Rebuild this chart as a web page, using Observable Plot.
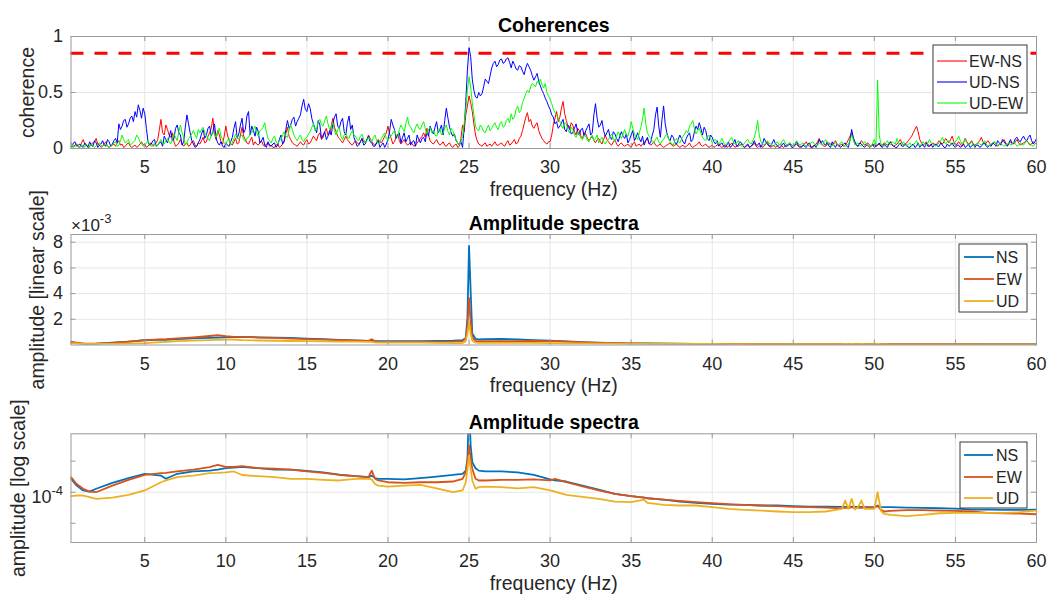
<!DOCTYPE html>
<html><head><meta charset="utf-8">
<script src="https://cdn.jsdelivr.net/npm/d3@7"></script>
<script src="https://cdn.jsdelivr.net/npm/@observablehq/plot@0.6"></script>
<style>
body{margin:0;background:#fff;}
#fig{position:relative;width:1048px;height:597px;overflow:hidden;background:#fff;}
#fig svg{position:absolute;left:0;}
</style></head><body><div id="fig"></div>
<script>
// ---------- DATA ----------
// coherence spectra: main samples every 0.2 Hz from 0.4 Hz, plus in-between samples from 0.5 Hz
const cohStart = 0.4, cohMidStart = 0.5, cohStep = 0.2;
const cohEWNS = [
0.06,0.02,0.04,0.01,0.08,0.03,0.02,0.05,0.09,0.03,
0.02,0.06,0.01,0.03,0.02,0.07,0.04,0.02,0.05,0.01,
0.03,0.02,0.06,0.04,0.02,0.05,0.03,0.08,0.26,0.12,
0.17,0.10,0.06,0.03,0.08,0.02,0.05,0.03,0.07,0.02,
0.04,0.10,0.06,0.14,0.27,0.08,0.12,0.04,0.20,0.07,
0.03,0.09,0.05,0.19,0.08,0.04,0.10,0.06,0.03,0.07,
0.02,0.05,0.03,0.01,0.04,0.02,0.06,0.19,0.08,0.04,
0.02,0.06,0.03,0.08,0.05,0.11,0.07,0.14,0.10,0.18,
0.13,0.27,0.15,0.09,0.05,0.11,0.06,0.03,0.07,0.04,
0.09,0.05,0.12,0.06,0.03,0.08,0.05,0.11,0.20,0.09,
0.06,0.13,0.04,0.08,0.03,0.06,0.02,0.05,0.09,0.14,
0.18,0.07,0.04,0.08,0.03,0.06,0.02,0.05,0.01,0.04,
0.02,0.21,0.30,0.47,0.33,0.12,0.04,0.02,0.05,0.03,
0.02,0.06,0.03,0.05,0.02,0.07,0.04,0.08,0.05,0.11,
0.22,0.32,0.26,0.18,0.23,0.12,0.07,0.04,0.06,0.21,
0.33,0.28,0.42,0.25,0.17,0.21,0.12,0.16,0.09,0.13,
0.07,0.11,0.05,0.09,0.04,0.12,0.06,0.03,0.08,0.02,
0.05,0.02,0.04,0.01,0.06,0.03,0.02,0.05,0.09,0.03,
0.06,0.02,0.04,0.01,0.03,0.05,0.02,0.04,0.01,0.03,
0.02,0.05,0.01,0.03,0.06,0.02,0.04,0.01,0.03,0.02,
0.04,0.01,0.03,0.02,0.05,0.01,0.02,0.04,0.01,0.03,
0.02,0.05,0.01,0.03,0.02,0.06,0.01,0.03,0.02,0.04,
0.01,0.03,0.05,0.02,0.04,0.01,0.03,0.06,0.02,0.01,
0.04,0.09,0.03,0.02,0.05,0.03,0.07,0.02,0.04,0.03,
0.08,0.14,0.04,0.02,0.07,0.03,0.05,0.02,0.04,0.03,
0.02,0.05,0.03,0.06,0.02,0.04,0.08,0.03,0.05,0.09,
0.14,0.20,0.08,0.03,0.06,0.02,0.05,0.03,0.07,0.04,
0.09,0.05,0.11,0.03,0.06,0.02,0.09,0.04,0.07,0.03,
0.05,0.10,0.04,0.07,0.03,0.06,0.02,0.05,0.08,0.03,
0.06,0.04,0.08,0.03,0.05,0.07,0.03,0.06,0.04];
const cohEWNSmid = [
0.03,0.03,0.02,0.05,0.04,0.01,0.04,0.06,0.04,0.01,
0.04,0.02,0.02,0.04,0.05,0.03,0.01,0.04,0.02,0.02,
0.01,0.04,0.03,0.01,0.04,0.02,0.05,0.17,0.14,0.21,
0.12,0.14,0.02,0.05,0.04,0.04,0.02,0.06,0.03,0.05,
0.07,0.05,0.11,0.18,0.13,0.16,0.06,0.11,0.12,0.04,
0.06,0.04,0.12,0.11,0.05,0.07,0.03,0.04,0.05,0.03,
0.04,0.02,0.01,0.03,0.01,0.04,0.13,0.11,0.05,0.03,
0.04,0.04,0.06,0.04,0.08,0.09,0.12,0.08,0.15,0.12,
0.20,0.19,0.11,0.07,0.08,0.08,0.04,0.05,0.05,0.06,
0.06,0.08,0.09,0.04,0.05,0.06,0.08,0.14,0.13,0.04,
0.10,0.07,0.06,0.05,0.04,0.04,0.03,0.07,0.11,0.10,
0.12,0.05,0.06,0.05,0.04,0.03,0.04,0.02,0.03,0.01,
0.09,0.15,0.38,0.41,0.22,0.07,0.03,0.04,0.02,0.04,
0.04,0.03,0.04,0.03,0.05,0.03,0.06,0.04,0.09,0.16,
0.28,0.24,0.20,0.21,0.16,0.09,0.05,0.06,0.12,0.27,
0.24,0.36,0.31,0.20,0.23,0.15,0.18,0.11,0.14,0.09,
0.09,0.07,0.08,0.06,0.08,0.08,0.04,0.06,0.04,0.04,
0.03,0.03,0.02,0.04,0.02,0.04,0.04,0.07,0.05,0.04,
0.03,0.03,0.02,0.02,0.04,0.03,0.03,0.02,0.02,0.01,
0.03,0.02,0.02,0.04,0.03,0.03,0.02,0.02,0.01,0.03,
0.02,0.02,0.01,0.03,0.03,0.02,0.03,0.02,0.02,0.01,
0.03,0.02,0.02,0.01,0.04,0.03,0.02,0.01,0.03,0.02,
0.02,0.04,0.03,0.03,0.02,0.02,0.04,0.03,0.01,0.02,
0.06,0.05,0.02,0.04,0.04,0.05,0.04,0.03,0.02,0.05,
0.11,0.09,0.03,0.04,0.05,0.04,0.03,0.03,0.02,0.04,
0.03,0.04,0.04,0.03,0.03,0.06,0.05,0.04,0.07,0.11,
0.17,0.15,0.05,0.04,0.04,0.03,0.04,0.05,0.05,0.06,
0.07,0.08,0.06,0.04,0.04,0.05,0.06,0.05,0.04,0.04,
0.07,0.06,0.05,0.05,0.04,0.04,0.04,0.06,0.05,0.04,
0.05,0.06,0.05,0.04,0.06,0.05,0.04,0.05];
const cohUDNS = [
0.03,0.05,0.02,0.04,0.01,0.03,0.06,0.02,0.05,0.03,
0.07,0.02,0.06,0.04,0.09,0.22,0.20,0.26,0.22,0.29,
0.33,0.39,0.27,0.31,0.06,0.04,0.08,0.03,0.06,0.11,
0.05,0.16,0.09,0.21,0.12,0.06,0.30,0.14,0.04,0.02,
0.08,0.17,0.12,0.20,0.15,0.09,0.03,0.02,0.05,0.02,
0.10,0.24,0.13,0.27,0.17,0.33,0.20,0.11,0.15,0.07,
0.03,0.06,0.02,0.05,0.03,0.12,0.07,0.25,0.21,0.28,
0.24,0.30,0.44,0.33,0.36,0.22,0.14,0.21,0.12,0.08,
0.16,0.22,0.31,0.18,0.27,0.12,0.29,0.21,0.06,0.03,
0.09,0.04,0.11,0.05,0.02,0.07,0.03,0.01,0.08,0.26,
0.17,0.12,0.05,0.14,0.09,0.03,0.07,0.12,0.05,0.10,
0.15,0.20,0.13,0.24,0.17,0.12,0.36,0.19,0.11,0.07,
0.03,0.01,0.42,0.90,0.62,0.46,0.50,0.49,0.62,0.58,
0.72,0.78,0.75,0.80,0.77,0.81,0.72,0.75,0.70,0.73,
0.66,0.76,0.70,0.61,0.67,0.56,0.49,0.42,0.35,0.28,
0.24,0.20,0.26,0.15,0.19,0.14,0.22,0.12,0.18,0.16,
0.22,0.14,0.40,0.19,0.25,0.11,0.17,0.08,0.13,0.06,
0.15,0.09,0.05,0.12,0.07,0.14,0.06,0.03,0.10,0.05,
0.17,0.37,0.10,0.38,0.14,0.07,0.10,0.04,0.12,0.06,
0.09,0.14,0.08,0.20,0.23,0.12,0.16,0.07,0.10,0.04,
0.02,0.05,0.01,0.06,0.02,0.08,0.03,0.05,0.01,0.04,
0.02,0.07,0.03,0.01,0.09,0.04,0.02,0.08,0.03,0.01,
0.05,0.02,0.04,0.01,0.06,0.02,0.03,0.01,0.05,0.02,
0.01,0.08,0.07,0.03,0.02,0.06,0.01,0.03,0.02,0.05,
0.01,0.17,0.06,0.02,0.04,0.01,0.03,0.02,0.01,0.03,
0.02,0.04,0.01,0.06,0.02,0.01,0.05,0.02,0.03,0.01,
0.04,0.02,0.01,0.03,0.05,0.02,0.01,0.04,0.02,0.03,
0.01,0.02,0.05,0.01,0.03,0.02,0.01,0.04,0.02,0.01,
0.03,0.02,0.05,0.01,0.02,0.04,0.07,0.03,0.06,0.02,
0.08,0.05,0.10,0.06,0.11,0.07,0.12,0.04,0.09];
const cohUDNSmid = [
0.01,0.06,0.03,0.02,0.05,0.01,0.03,0.07,0.01,0.04,
0.03,0.08,0.02,0.07,0.05,0.17,0.25,0.19,0.27,0.24,
0.28,0.34,0.36,0.18,0.03,0.07,0.02,0.05,0.02,0.08,
0.10,0.07,0.18,0.14,0.03,0.19,0.22,0.07,0.01,0.05,
0.13,0.09,0.18,0.11,0.22,0.05,0.06,0.01,0.03,0.06,
0.18,0.09,0.21,0.14,0.29,0.12,0.16,0.19,0.05,0.10,
0.01,0.03,0.04,0.01,0.08,0.04,0.17,0.18,0.26,0.20,
0.27,0.38,0.35,0.40,0.27,0.18,0.25,0.09,0.15,0.11,
0.12,0.28,0.20,0.24,0.15,0.23,0.17,0.10,0.02,0.06,
0.03,0.08,0.06,0.02,0.05,0.01,0.05,0.04,0.15,0.21,
0.09,0.14,0.10,0.06,0.12,0.06,0.02,0.08,0.09,0.06,
0.11,0.16,0.19,0.14,0.21,0.25,0.27,0.14,0.13,0.05,
0.06,0.18,0.70,0.82,0.52,0.45,0.47,0.55,0.60,0.65,
0.76,0.73,0.79,0.76,0.80,0.77,0.78,0.71,0.74,0.69,
0.72,0.73,0.65,0.64,0.60,0.52,0.45,0.38,0.30,0.22,
0.18,0.23,0.17,0.21,0.13,0.18,0.15,0.17,0.11,0.19,
0.12,0.30,0.27,0.21,0.16,0.14,0.10,0.15,0.09,0.11,
0.11,0.13,0.08,0.16,0.10,0.09,0.11,0.07,0.04,0.12,
0.30,0.20,0.26,0.22,0.09,0.12,0.05,0.08,0.09,0.04,
0.12,0.06,0.15,0.17,0.18,0.19,0.09,0.12,0.06,0.07,
0.04,0.02,0.03,0.01,0.05,0.02,0.06,0.02,0.03,0.01,
0.04,0.03,0.05,0.04,0.06,0.02,0.05,0.04,0.01,0.03,
0.02,0.03,0.01,0.03,0.03,0.01,0.02,0.04,0.01,0.03,
0.04,0.05,0.04,0.06,0.01,0.03,0.04,0.01,0.04,0.02,
0.08,0.10,0.03,0.05,0.02,0.03,0.01,0.04,0.02,0.05,
0.01,0.02,0.04,0.03,0.01,0.03,0.02,0.04,0.01,0.03,
0.01,0.05,0.03,0.01,0.02,0.04,0.03,0.02,0.05,0.01,
0.04,0.03,0.02,0.03,0.01,0.04,0.02,0.01,0.04,0.03,
0.01,0.04,0.02,0.03,0.05,0.02,0.05,0.08,0.04,0.05,
0.04,0.09,0.07,0.09,0.08,0.10,0.07,0.06];
const cohUDEW = [
0.02,0.01,0.03,0.01,0.02,0.04,0.01,0.03,0.02,0.05,
0.02,0.04,0.01,0.03,0.06,0.03,0.12,0.05,0.08,0.04,
0.07,0.10,0.05,0.03,0.07,0.02,0.05,0.03,0.08,0.04,
0.09,0.04,0.13,0.07,0.21,0.10,0.05,0.11,0.16,0.09,
0.14,0.19,0.12,0.07,0.15,0.10,0.18,0.08,0.04,0.09,
0.05,0.13,0.08,0.12,0.06,0.10,0.14,0.20,0.11,0.17,
0.23,0.09,0.05,0.11,0.04,0.08,0.15,0.10,0.21,0.12,
0.07,0.12,0.06,0.10,0.15,0.22,0.18,0.26,0.20,0.29,
0.17,0.23,0.12,0.19,0.08,0.14,0.09,0.16,0.11,0.07,
0.13,0.05,0.10,0.06,0.12,0.04,0.09,0.14,0.07,0.11,
0.16,0.10,0.21,0.15,0.28,0.19,0.14,0.22,0.17,0.24,
0.13,0.19,0.16,0.11,0.18,0.14,0.21,0.12,0.16,0.08,
0.03,0.11,0.35,0.64,0.41,0.20,0.16,0.19,0.14,0.21,
0.18,0.23,0.17,0.24,0.20,0.27,0.31,0.28,0.38,0.34,
0.45,0.52,0.55,0.57,0.60,0.62,0.54,0.50,0.44,0.35,
0.30,0.24,0.18,0.22,0.14,0.17,0.10,0.13,0.08,0.11,
0.06,0.12,0.09,0.05,0.10,0.04,0.08,0.13,0.06,0.15,
0.09,0.17,0.11,0.24,0.13,0.08,0.19,0.36,0.14,0.09,
0.05,0.10,0.04,0.08,0.13,0.06,0.03,0.09,0.05,0.11,
0.16,0.20,0.25,0.13,0.18,0.10,0.07,0.12,0.05,0.08,
0.04,0.09,0.03,0.06,0.10,0.04,0.07,0.02,0.05,0.08,
0.04,0.10,0.25,0.06,0.03,0.07,0.04,0.02,0.06,0.03,
0.08,0.03,0.05,0.02,0.07,0.03,0.05,0.02,0.04,0.06,
0.02,0.05,0.03,0.08,0.04,0.02,0.05,0.03,0.06,0.02,
0.04,0.12,0.03,0.05,0.02,0.06,0.03,0.02,0.08,0.61,
0.04,0.02,0.07,0.03,0.05,0.09,0.03,0.06,0.02,0.05,
0.03,0.07,0.02,0.06,0.03,0.08,0.04,0.02,0.05,0.10,
0.04,0.07,0.03,0.06,0.11,0.04,0.08,0.03,0.06,0.02,
0.05,0.03,0.07,0.02,0.04,0.06,0.03,0.05,0.02,0.04,
0.03,0.06,0.02,0.05,0.03,0.07,0.04,0.02,0.05];
const cohUDEWmid = [
0.04,0.02,0.01,0.03,0.01,0.02,0.04,0.01,0.04,0.03,
0.03,0.02,0.02,0.05,0.02,0.07,0.08,0.06,0.03,0.06,
0.12,0.06,0.02,0.05,0.04,0.03,0.02,0.06,0.05,0.07,
0.06,0.08,0.10,0.15,0.14,0.03,0.09,0.13,0.12,0.17,
0.17,0.14,0.09,0.12,0.13,0.15,0.11,0.05,0.07,0.03,
0.09,0.10,0.11,0.08,0.09,0.13,0.17,0.14,0.16,0.19,
0.15,0.07,0.09,0.06,0.07,0.12,0.11,0.16,0.17,0.09,
0.10,0.08,0.09,0.13,0.19,0.16,0.24,0.21,0.25,0.22,
0.20,0.16,0.17,0.11,0.12,0.10,0.13,0.12,0.08,0.11,
0.08,0.07,0.08,0.10,0.07,0.06,0.12,0.09,0.10,0.14,
0.12,0.17,0.18,0.22,0.21,0.16,0.19,0.18,0.21,0.18,
0.17,0.14,0.12,0.15,0.12,0.18,0.15,0.18,0.11,0.05,
0.06,0.22,0.52,0.55,0.30,0.17,0.21,0.15,0.18,0.16,
0.21,0.19,0.22,0.19,0.25,0.23,0.26,0.35,0.32,0.41,
0.49,0.50,0.58,0.55,0.58,0.57,0.58,0.47,0.40,0.32,
0.27,0.20,0.23,0.17,0.19,0.12,0.14,0.09,0.12,0.07,
0.10,0.07,0.12,0.08,0.06,0.07,0.11,0.09,0.11,0.12,
0.13,0.12,0.16,0.18,0.10,0.14,0.26,0.22,0.11,0.07,
0.08,0.06,0.07,0.11,0.09,0.04,0.07,0.06,0.08,0.13,
0.14,0.22,0.18,0.16,0.14,0.08,0.10,0.09,0.07,0.05,
0.06,0.05,0.04,0.08,0.06,0.05,0.04,0.03,0.07,0.05,
0.07,0.16,0.12,0.04,0.05,0.05,0.03,0.04,0.04,0.06,
0.05,0.04,0.03,0.04,0.05,0.04,0.03,0.03,0.05,0.04,
0.03,0.04,0.06,0.05,0.03,0.04,0.04,0.05,0.03,0.03,
0.07,0.08,0.04,0.03,0.04,0.04,0.02,0.05,0.03,0.12,
0.03,0.05,0.04,0.06,0.04,0.05,0.04,0.03,0.04,0.02,
0.05,0.04,0.04,0.04,0.05,0.05,0.03,0.04,0.07,0.06,
0.06,0.04,0.05,0.08,0.07,0.06,0.05,0.04,0.03,0.04,
0.04,0.05,0.04,0.03,0.05,0.04,0.04,0.03,0.03,0.05,
0.04,0.04,0.03,0.04,0.05,0.05,0.03,0.04];
const cohThreshold = 0.85;
const cohSeries = ["EW-NS", "UD-NS", "UD-EW"];
const cohColors = ["#ff0000", "#0000ff", "#00ff00"];

// amplitude spectra frequencies (Hz)
const ampFreq = [0.45,0.8,1.2,1.6,2,3,4,5,6,6.3,7,8,9,9.5,10,10.5,11,12,13,14,15,16,17,18,18.8,19,19.2,19.4,20,21,
22,23,24,24.6,24.8,24.9,25,25.1,25.2,25.4,25.6,26,27,28,29,30,30.3,31,32,33,34,35,35.8,36,37,38,39,40,41,42,
43,44,45,46,47,48,48.2,48.4,48.6,48.8,49,49.2,49.4,50,50.2,50.4,50.6,51,52,53,54,55,56,57,58,59,60];
// linear-scale panel, in units of 1e-3
const linNS = [0.18,0.12,0.09,0.09,0.11,0.19,0.27,0.37,0.42,0.40,0.46,0.52,0.55,0.57,0.60,0.62,0.64,0.60,0.58,0.55,
0.50,0.45,0.40,0.35,0.32,0.33,0.31,0.30,0.29,0.29,0.30,0.31,0.34,0.38,0.55,2.10,7.72,4.20,0.90,0.48,
0.44,0.45,0.48,0.44,0.38,0.33,0.31,0.28,0.22,0.18,0.15,0.13,0.12,0.12,0.11,0.10,0.09,0.09,0.08,0.08,
0.08,0.08,0.07,0.07,0.07,0.07,0.07,0.07,0.07,0.07,0.07,0.07,0.07,0.07,0.08,0.07,0.07,0.07,0.07,0.07,
0.07,0.07,0.06,0.06,0.06,0.06,0.06];
const linEW = [0.26,0.18,0.13,0.11,0.11,0.17,0.26,0.38,0.44,0.45,0.52,0.60,0.70,0.76,0.68,0.64,0.63,0.58,0.55,0.50,
0.46,0.42,0.38,0.34,0.32,0.45,0.29,0.27,0.25,0.24,0.25,0.25,0.26,0.30,0.50,1.40,3.65,1.80,0.60,0.32,
0.29,0.29,0.29,0.30,0.31,0.30,0.31,0.27,0.21,0.17,0.14,0.12,0.11,0.11,0.10,0.09,0.09,0.08,0.08,0.08,
0.07,0.07,0.07,0.07,0.07,0.07,0.07,0.07,0.07,0.07,0.07,0.07,0.07,0.07,0.07,0.06,0.06,0.06,0.06,0.06,
0.06,0.06,0.06,0.05,0.05,0.05,0.05];
const linUD = [0.14,0.12,0.10,0.09,0.08,0.08,0.10,0.14,0.22,0.25,0.30,0.34,0.38,0.40,0.42,0.42,0.38,0.35,0.33,0.31,
0.30,0.28,0.27,0.26,0.25,0.25,0.20,0.19,0.18,0.18,0.18,0.16,0.14,0.15,0.30,0.90,1.75,0.90,0.35,0.18,
0.17,0.17,0.17,0.16,0.16,0.15,0.14,0.13,0.12,0.11,0.10,0.10,0.10,0.09,0.09,0.08,0.08,0.08,0.07,0.07,
0.07,0.06,0.06,0.06,0.06,0.06,0.08,0.06,0.08,0.06,0.06,0.08,0.06,0.06,0.10,0.06,0.06,0.05,0.05,0.05,
0.05,0.05,0.05,0.05,0.05,0.05,0.05];
// log-scale panel
const logNS = [1.35e-4,1.16e-4,1.04e-4,1.015e-4,1.08e-4,1.23e-4,1.37e-4,1.51e-4,1.45e-4,1.35e-4,1.51e-4,1.59e-4,1.62e-4,1.66e-4,1.71e-4,1.73e-4,1.76e-4,1.71e-4,1.66e-4,1.66e-4,
1.61e-4,1.56e-4,1.48e-4,1.43e-4,1.40e-4,1.45e-4,1.37e-4,1.35e-4,1.35e-4,1.33e-4,1.37e-4,1.42e-4,1.47e-4,1.51e-4,1.62e-4,2.11e-4,7.0e-4,2.84e-4,1.96e-4,1.71e-4,
1.62e-4,1.59e-4,1.59e-4,1.56e-4,1.47e-4,1.33e-4,1.30e-4,1.27e-4,1.16e-4,1.06e-4,0.963e-4,0.915e-4,0.888e-4,0.874e-4,0.849e-4,0.812e-4,0.788e-4,0.771e-4,0.759e-4,0.754e-4,
0.743e-4,0.743e-4,0.732e-4,0.726e-4,0.726e-4,0.721e-4,0.721e-4,0.721e-4,0.726e-4,0.721e-4,0.721e-4,0.721e-4,0.715e-4,0.715e-4,0.743e-4,0.721e-4,0.715e-4,0.715e-4,0.710e-4,0.705e-4,
0.699e-4,0.694e-4,0.679e-4,0.679e-4,0.674e-4,0.674e-4,0.679e-4];
const logEW = [1.40e-4,1.20e-4,1.08e-4,1.015e-4,1.00e-4,1.16e-4,1.32e-4,1.47e-4,1.53e-4,1.54e-4,1.59e-4,1.66e-4,1.75e-4,1.84e-4,1.76e-4,1.76e-4,1.79e-4,1.71e-4,1.69e-4,1.66e-4,
1.59e-4,1.54e-4,1.47e-4,1.43e-4,1.40e-4,1.62e-4,1.35e-4,1.30e-4,1.25e-4,1.23e-4,1.25e-4,1.25e-4,1.27e-4,1.35e-4,1.56e-4,1.96e-4,2.84e-4,2.11e-4,1.69e-4,1.35e-4,
1.30e-4,1.30e-4,1.32e-4,1.32e-4,1.33e-4,1.30e-4,1.35e-4,1.25e-4,1.14e-4,1.04e-4,0.963e-4,0.915e-4,0.888e-4,0.874e-4,0.849e-4,0.824e-4,0.800e-4,0.782e-4,0.765e-4,0.754e-4,
0.743e-4,0.732e-4,0.721e-4,0.715e-4,0.710e-4,0.699e-4,0.710e-4,0.699e-4,0.715e-4,0.699e-4,0.710e-4,0.705e-4,0.710e-4,0.710e-4,0.732e-4,0.679e-4,0.650e-4,0.659e-4,0.669e-4,0.669e-4,
0.664e-4,0.659e-4,0.650e-4,0.630e-4,0.625e-4,0.621e-4,0.611e-4];
const logUD = [0.915e-4,0.929e-4,0.929e-4,0.894e-4,0.862e-4,0.888e-4,0.942e-4,1.04e-4,1.25e-4,1.30e-4,1.40e-4,1.45e-4,1.53e-4,1.54e-4,1.56e-4,1.59e-4,1.47e-4,1.43e-4,1.40e-4,1.35e-4,
1.35e-4,1.32e-4,1.30e-4,1.35e-4,1.35e-4,1.33e-4,1.20e-4,1.16e-4,1.135e-4,1.16e-4,1.18e-4,1.09e-4,1.00e-4,1.04e-4,1.25e-4,1.69e-4,2.27e-4,1.69e-4,1.30e-4,1.08e-4,
1.12e-4,1.135e-4,1.12e-4,1.09e-4,1.12e-4,1.04e-4,1.015e-4,0.942e-4,0.901e-4,0.862e-4,0.812e-4,0.800e-4,0.849e-4,0.788e-4,0.754e-4,0.743e-4,0.743e-4,0.715e-4,0.689e-4,0.674e-4,
0.664e-4,0.650e-4,0.640e-4,0.640e-4,0.650e-4,0.689e-4,0.830e-4,0.689e-4,0.862e-4,0.679e-4,0.715e-4,0.830e-4,0.689e-4,0.689e-4,1.00e-4,0.664e-4,0.616e-4,0.602e-4,0.585e-4,0.602e-4,
0.625e-4,0.630e-4,0.630e-4,0.630e-4,0.630e-4,0.640e-4,0.664e-4];
const ampSeries = ["NS", "EW", "UD"];
const ampColors = ["#0072bd", "#d95319", "#edb120"];

const xTicks = [5, 10, 15, 20, 25, 30, 35, 40, 45, 50, 55, 60];
const cohTicks = [0, 0.5, 1];
const linTicks = [2, 4, 6, 8];
const logMinorTicks = [5e-5, 1e-4, 2e-4];
const logTicks = [1e-4];

// ---------- BUILD ----------
const FONT = '"Liberation Sans", Arial, Helvetica, sans-serif';
const W = 1048, ML = 70.5, MR = 12;
const innerW = W - ML - MR;
const frameColor = "#9a9a9a", gridColor = "#e6e6e6", textColor = "#262626";
const fig = document.getElementById("fig");
const SVGNS = "http://www.w3.org/2000/svg";

const cohRows = [];
[[cohEWNS, cohEWNSmid], [cohUDNS, cohUDNSmid], [cohUDEW, cohUDEWmid]].forEach(([main, mid], s) => {
  main.forEach((v, i) => cohRows.push({f: cohStart + i * cohStep, v, s: cohSeries[s]}));
  mid.forEach((v, i) => cohRows.push({f: cohMidStart + i * cohStep, v, s: cohSeries[s]}));
});
const linRows = [], logRows = [];
[linNS, linEW, linUD].forEach((arr, s) => arr.forEach((v, i) => linRows.push({f: ampFreq[i], v, s: ampSeries[s]})));
[logNS, logEW, logUD].forEach((arr, s) => arr.forEach((v, i) => logRows.push({f: ampFreq[i], v, s: ampSeries[s]})));

function boxTicks(xt, yt, innerH, len = 5) {
  return [
    Plot.tickX(xt, {insetTop: innerH - len, stroke: frameColor}),
    Plot.tickX(xt, {insetBottom: innerH - len, stroke: frameColor}),
    Plot.tickY(yt, {insetRight: innerW - len, stroke: frameColor}),
    Plot.tickY(yt, {insetLeft: innerW - len, stroke: frameColor})
  ];
}

// turn "10⁻⁴"-style strings into real raised tspans
const supMap = {"⁻": "-", "³": "3", "⁴": "4"};
function fixSuperscripts(svg, supSize, rise) {
  svg.querySelectorAll("text").forEach(t => {
    const s = t.textContent;
    const k = s.indexOf("⁻");
    if (k < 0 || t.children.length) return;
    const base = s.slice(0, k), sup = [...s.slice(k)].map(c => supMap[c] || c).join("");
    t.textContent = "";
    const a = document.createElementNS(SVGNS, "tspan"); a.textContent = base;
    const b = document.createElementNS(SVGNS, "tspan"); b.textContent = sup;
    b.setAttribute("dy", -rise); b.setAttribute("font-size", supSize);
    t.append(a, b);
  });
}

function panel({top, height, mt, mb, y, gridY, tickMarksY, axisYOpts, lines, extra, title, ylabel, ylabelDx}) {
  const innerH = height - mt - mb;
  const svg = Plot.plot({
    width: W, height, marginLeft: ML, marginRight: MR, marginTop: mt, marginBottom: mb,
    style: {fontFamily: FONT, color: textColor, background: "transparent", overflow: "visible"},
    x: {domain: [0.45, 60]},
    y,
    marks: [
      Plot.gridX(xTicks, {stroke: gridColor, strokeOpacity: 1}),
      Plot.gridY(gridY, {stroke: gridColor, strokeOpacity: 1}),
      ...lines,
      ...extra,
      ...boxTicks(xTicks, tickMarksY, innerH),
      Plot.frame({stroke: frameColor}),
      Plot.axisX({ticks: xTicks, tickSize: 0, tickPadding: 12, fontSize: 18, label: null}),
      Plot.axisY({tickSize: 0, tickPadding: 8, fontSize: 18, label: null, ...axisYOpts}),
      Plot.text([title], {frameAnchor: "top", lineAnchor: "middle", dy: -11, fontSize: 19.5, fontWeight: "bold", fill: "#000"}),
      Plot.text(["frequency (Hz)"], {frameAnchor: "bottom", lineAnchor: "middle", dy: 41, fontSize: 19.5}),
      Plot.text([ylabel], {frameAnchor: "left", textAnchor: "middle", lineAnchor: "middle", dx: ylabelDx, rotate: -90, fontSize: 19.5})
    ]
  });
  fixSuperscripts(svg, 13, 8);
  svg.style.top = top + "px";
  fig.appendChild(svg);
}

// Panel 1: coherences
panel({
  top: 0, height: 198, mt: 36, mb: 50,
  y: {domain: [0, 1]},
  gridY: [0.5], tickMarksY: cohTicks,
  axisYOpts: {ticks: cohTicks, tickFormat: d => String(d)},
  lines: cohSeries.map((s, k) => Plot.line(d3.sort(cohRows.filter(d => d.s === s), d => d.f),
    {x: "f", y: "v", stroke: cohColors[k], strokeWidth: 1, clip: true})),
  extra: [Plot.ruleY([cohThreshold], {stroke: "#ff0000", strokeWidth: 3, strokeDasharray: "13,11"})],
  title: "Coherences", ylabel: "coherence", ylabelDx: -43.5
});

// Panel 2: amplitude, linear scale (values in 1e-3)
panel({
  top: 198, height: 198, mt: 36, mb: 51.5,
  y: {domain: [0, 8.6]},
  gridY: linTicks, tickMarksY: linTicks,
  axisYOpts: {ticks: linTicks, tickFormat: d => String(d)},
  lines: ampSeries.map((s, k) => Plot.line(linRows.filter(d => d.s === s),
    {x: "f", y: "v", stroke: ampColors[k], strokeWidth: 1.8, clip: true})),
  extra: [Plot.text(["×10⁻³"], {frameAnchor: "top-left", textAnchor: "start", lineAnchor: "middle", dy: -9, fontSize: 17})],
  title: "Amplitude spectra", ylabel: "amplitude [linear scale]", ylabelDx: -33.5
});

// Panel 3: amplitude, log scale
panel({
  top: 396, height: 201, mt: 37.3, mb: 55,
  y: {type: "log", domain: [3.25e-5, 3.69e-4]},
  gridY: logTicks, tickMarksY: logMinorTicks,
  axisYOpts: {ticks: logTicks, tickFormat: () => "10⁻⁴", dy: 5},
  lines: ampSeries.map((s, k) => Plot.line(logRows.filter(d => d.s === s),
    {x: "f", y: "v", stroke: ampColors[k], strokeWidth: 1.8, clip: true})),
  extra: [],
  title: "Amplitude spectra", ylabel: "amplitude [log scale]", ylabelDx: -52
});

// ---------- LEGENDS ----------
const overlay = d3.create("svg").attr("width", W).attr("height", 597)
  .style("top", "0px").style("font-family", FONT);
function legend({x, y, w, h, names, colors, lx1, lx2, tx, rowsY, lw}) {
  overlay.append("rect").attr("x", x).attr("y", y).attr("width", w).attr("height", h)
    .attr("fill", "#fff").attr("stroke", "#3a3a3a").attr("stroke-width", 1);
  names.forEach((n, i) => {
    overlay.append("line").attr("x1", lx1).attr("x2", lx2).attr("y1", rowsY[i]).attr("y2", rowsY[i])
      .attr("stroke", colors[i]).attr("stroke-width", lw);
    overlay.append("text").attr("x", tx).attr("y", rowsY[i]).attr("dy", "0.35em")
      .attr("font-size", 16).attr("fill", textColor).text(n);
  });
}
legend({x: 933, y: 45, w: 94, h: 68, names: cohSeries, colors: cohColors, lx1: 937, lx2: 967, tx: 969, rowsY: [61, 82, 103], lw: 1.1});
legend({x: 959, y: 244, w: 68, h: 68, names: ampSeries, colors: ampColors, lx1: 964, lx2: 994, tx: 996, rowsY: [257, 279, 301], lw: 1.8});
legend({x: 960, y: 442, w: 67, h: 66, names: ampSeries, colors: ampColors, lx1: 964, lx2: 993, tx: 996, rowsY: [455, 477, 498], lw: 1.8});
fig.appendChild(overlay.node());
</script></body></html>
